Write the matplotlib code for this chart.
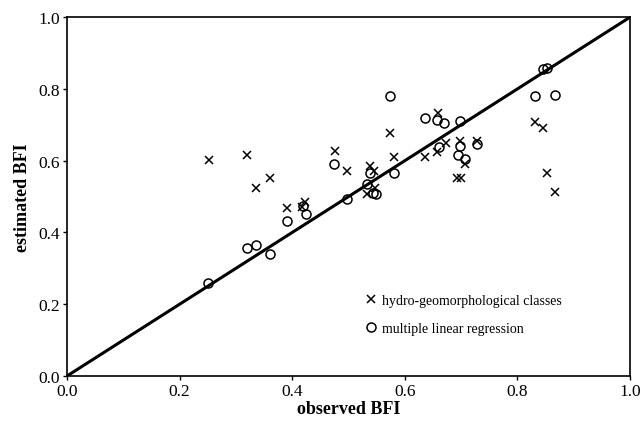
import numpy as np
import matplotlib
matplotlib.use('Agg')
import matplotlib.pyplot as plt

plt.rcParams['font.family'] = ['Liberation Serif', 'DejaVu Serif']

# hydro-geomorphological classes (x markers)
hg_obs = [0.252, 0.320, 0.335, 0.361, 0.390, 0.417, 0.423, 0.476, 0.497, 0.538,
          0.545, 0.547, 0.532, 0.580, 0.574, 0.636, 0.657, 0.659, 0.673, 0.698,
          0.729, 0.706, 0.693, 0.700, 0.831, 0.846, 0.853, 0.867]
hg_est = [0.602, 0.616, 0.525, 0.553, 0.467, 0.470, 0.486, 0.628, 0.572, 0.584,
          0.572, 0.525, 0.507, 0.611, 0.676, 0.609, 0.623, 0.732, 0.649, 0.656,
          0.656, 0.591, 0.553, 0.553, 0.707, 0.691, 0.565, 0.512]

# multiple linear regression (circles)
mlr_obs = [0.251, 0.320, 0.335, 0.361, 0.390, 0.419, 0.425, 0.475, 0.497, 0.538,
           0.532, 0.544, 0.549, 0.574, 0.580, 0.636, 0.657, 0.670, 0.698, 0.661,
           0.698, 0.729, 0.694, 0.707, 0.831, 0.867, 0.846, 0.853]
mlr_est = [0.259, 0.356, 0.366, 0.340, 0.433, 0.474, 0.451, 0.592, 0.493, 0.565,
           0.536, 0.511, 0.507, 0.779, 0.567, 0.719, 0.714, 0.706, 0.711, 0.637,
           0.642, 0.646, 0.616, 0.606, 0.781, 0.783, 0.855, 0.857]

ticks = [0.0, 0.2, 0.4, 0.6, 0.8, 1.0]

fig = plt.figure(figsize=(6.41, 4.31), dpi=100)
ax = fig.add_axes([0.1045, 0.1253, 0.8785, 0.8327])

ax.plot([0, 1], [0, 1], color='black', lw=2.2, zorder=1)
ax.plot(hg_obs, hg_est, 'x', color='black', ms=6, mew=1.1, ls='none',
        label='hydro-geomorphological classes', zorder=3)
ax.plot(mlr_obs, mlr_est, 'o', mfc='none', mec='black', ms=6.5, mew=1.1, ls='none',
        label='multiple linear regression', zorder=3)

ax.set_xlim(0, 1)
ax.set_ylim(0, 1)
ax.set_xticks(ticks)
ax.set_yticks(ticks)
ax.set_xticklabels(['%.1f' % t for t in ticks])
ax.set_yticklabels(['%.1f' % t for t in ticks])
ax.tick_params(direction='out', length=3, width=1, labelsize=12.5, pad=2)
for s in ax.spines.values():
    s.set_linewidth(1.2)

ax.set_xlabel('observed BFI', fontsize=13, fontweight='bold', labelpad=1)
ax.set_ylabel('estimated BFI', fontsize=13, fontweight='bold', labelpad=5)

ax.legend(loc='lower left', bbox_to_anchor=(0.505, 0.08), frameon=False,
          fontsize=10, handletextpad=0.3, labelspacing=1.1, handlelength=1.0)

fig.savefig('out.png', dpi=100)
